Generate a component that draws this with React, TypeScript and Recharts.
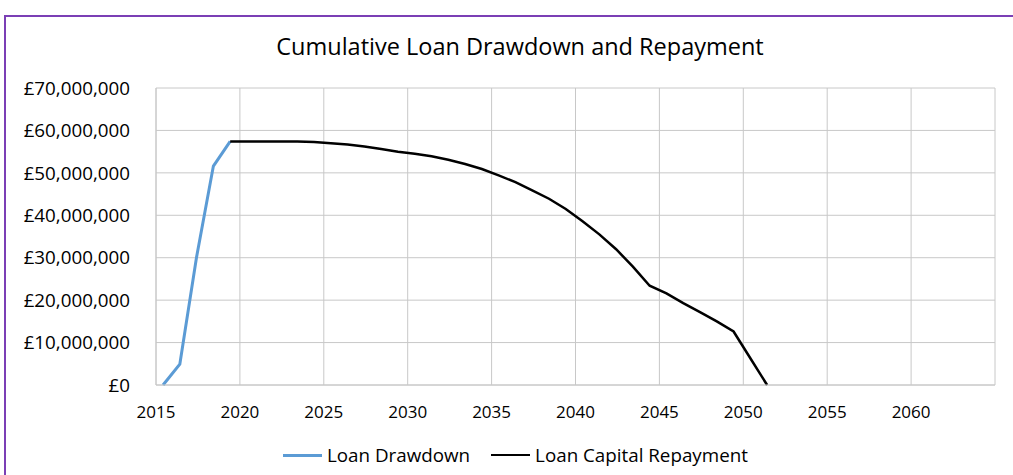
import React from 'react';
import { LineChart, Line, XAxis, YAxis, CartesianGrid } from 'recharts';

// Points sit a little after each year mark on the date axis
const drawdownYears = [2015.42, 2016.42, 2017.42, 2018.42, 2019.42];
const drawdownValues = [0, 4900000, 30200000, 51600000, 57400000];

const repaymentYears = [
  2019.42, 2020.42, 2021.42, 2022.42, 2023.42, 2024.42, 2025.42, 2026.42, 2027.42, 2028.42,
  2029.42, 2030.42, 2031.42, 2032.42, 2033.42, 2034.42, 2035.42, 2036.42, 2037.42, 2038.42,
  2039.42, 2040.42, 2041.42, 2042.42, 2043.42, 2044.42, 2045.42, 2046.42, 2047.42, 2048.42,
  2049.42, 2050.42, 2051.42,
];
const repaymentValues = [
  57400000, 57400000, 57400000, 57400000, 57400000, 57300000, 57000000, 56700000, 56200000, 55600000,
  55000000, 54500000, 53900000, 53100000, 52100000, 50900000, 49400000, 47800000, 45900000, 43900000,
  41500000, 38600000, 35500000, 32000000, 27900000, 23400000, 21600000, 19300000, 17200000, 15000000,
  12600000, 6300000, 0,
];

const xTicks = [2015, 2020, 2025, 2030, 2035, 2040, 2045, 2050, 2055, 2060, 2065];
const yTicks = [0, 10000000, 20000000, 30000000, 40000000, 50000000, 60000000, 70000000];

const drawdownData = drawdownYears.map((year, i) => ({ year, value: drawdownValues[i] }));
const repaymentData = repaymentYears.map((year, i) => ({ year, value: repaymentValues[i] }));

const FONT = '"Open Sans", sans-serif';
const BLUE = '#5B9BD5';

const formatPounds = (v: number) => '£' + v.toLocaleString('en-GB');

const LegendItem = ({ color, label, gap }: { color: string; label: string; gap: number }) => (
  <div style={{ display: 'flex', alignItems: 'center', marginRight: gap }}>
    <div style={{ width: 39, height: color === BLUE ? 3 : 2, background: color, marginRight: 5 }} />
    <span>{label}</span>
  </div>
);

export default function App() {
  return (
    <div style={{ position: 'absolute', left: 0, top: 0, width: 1013, height: 475, background: '#fff', fontFamily: FONT, overflow: 'hidden' }}>
      <div
        style={{
          position: 'absolute', left: 4, top: 15, width: 1013, height: 470,
          borderTop: '2px solid #7B3FB5', borderLeft: '2px solid #7B3FB5',
        }}
      />
      <div style={{ position: 'absolute', left: 0, top: 30, width: 1040, textAlign: 'center', fontSize: 23.5, color: '#000' }}>
        Cumulative Loan Drawdown and Repayment
      </div>
      <div style={{ position: 'absolute', left: 0, top: 0 }}>
        <LineChart width={1013} height={475} margin={{ top: 88, right: 18, bottom: 60, left: 0 }}>
          <CartesianGrid stroke="#C8C8C8" strokeWidth={1} />
          <XAxis
            type="number"
            dataKey="year"
            domain={[2015, 2065]}
            ticks={xTicks}
            tickFormatter={(v: number) => (v === 2065 ? '' : String(v))}
            tickSize={0}
            tickMargin={21}
            height={30}
            axisLine={{ stroke: '#C8C8C8' }}
            tick={{ fill: '#000', fontSize: 17, fontFamily: FONT }}
            allowDuplicatedCategory={false}
          />
          <YAxis
            type="number"
            domain={[0, 70000000]}
            ticks={yTicks}
            tickFormatter={formatPounds}
            width={156}
            tickSize={0}
            tickMargin={26}
            axisLine={{ stroke: '#C8C8C8' }}
            tick={{ fill: '#000', fontSize: 18.8, fontFamily: FONT }}
          />
          <Line
            data={drawdownData}
            dataKey="value"
            name="Loan Drawdown"
            stroke={BLUE}
            strokeWidth={3}
            dot={false}
            isAnimationActive={false}
          />
          <Line
            data={repaymentData}
            dataKey="value"
            name="Loan Capital Repayment"
            stroke="#000"
            strokeWidth={2.5}
            dot={false}
            isAnimationActive={false}
          />
        </LineChart>
      </div>
      <div
        style={{
          position: 'absolute', left: 283, top: 442, display: 'flex',
          fontSize: 18.8, color: '#000', whiteSpace: 'nowrap',
        }}
      >
        <LegendItem color={BLUE} label="Loan Drawdown" gap={21} />
        <LegendItem color="#000" label="Loan Capital Repayment" gap={0} />
      </div>
    </div>
  );
}
